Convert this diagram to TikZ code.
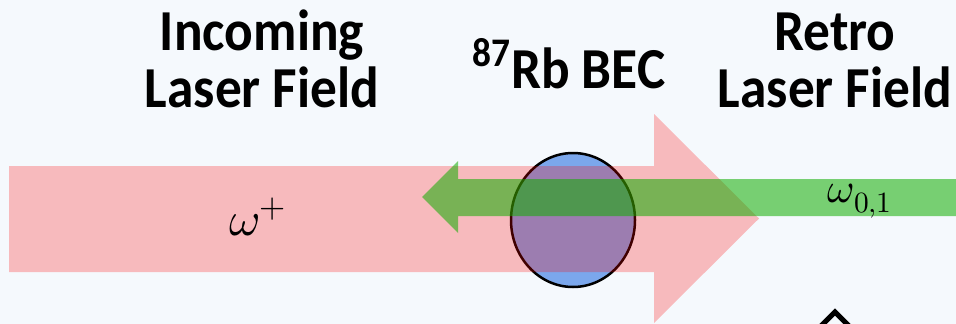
\documentclass[tikz,border=0pt]{standalone}
\usepackage{fontspec}
\usepackage{unicode-math}
\setmainfont{Carlito}
\setmathfont{Latin Modern Math}
\newfontfamily\titlefont{Carlito}[FakeStretch=0.92]
\usetikzlibrary{positioning}
\definecolor{bgpaper}{RGB}{245,249,253}
\definecolor{becblue}{RGB}{123,167,236}
\definecolor{laserred}{RGB}{255,0,0}
\definecolor{retrogreen}{RGB}{16,173,0}
\tikzset{
  title/.style={font=\titlefont\fontsize{58}{57}\selectfont\bfseries, align=center, inner sep=0pt, anchor=base},
  freqlabel/.style={inner sep=0pt, anchor=base},
}

\begin{document}
\begin{tikzpicture}[x=1pt,y=-1pt]
	\fill[bgpaper] (0,0) rectangle (956,324);
	\useasboundingbox (0,0) rectangle (956,324);
	% BEC cloud
	\filldraw[fill=becblue, draw=black, line width=2.5pt] (573,220) ellipse [x radius=62, y radius=67];
	% incoming beam
	\fill[laserred, opacity=0.25] (9,166) -- (654,166) -- (654,114) -- (759,218.5) -- (654,323) -- (654,272) -- (9,272) -- cycle;
	% retro beam
	\fill[retrogreen, opacity=0.55] (960,179) -- (458,179) -- (458,161) -- (422,197) -- (458,233) -- (458,216) -- (960,216) -- cycle;
	% marker at the bottom
	\draw[black, line width=5pt] (809,338) -- (835,312) -- (861,338) -- (835,364) -- cycle;

	\node[title] (incoming) at (262,107) {Incoming\\Laser Field};
	\node[title] (bec) at (569,88) {\textsuperscript{87}Rb BEC};
	\node[title] (retro) at (835,107) {Retro\\Laser Field};
	\node[freqlabel, font=\fontsize{48}{48}\selectfont] (wplus) at (258,235) {$\omega^+$};
	\node[freqlabel, font=\fontsize{42}{42}\selectfont] (wzero) at (860,202) {$\omega_{0,1}$};
\end{tikzpicture}
\end{document}
